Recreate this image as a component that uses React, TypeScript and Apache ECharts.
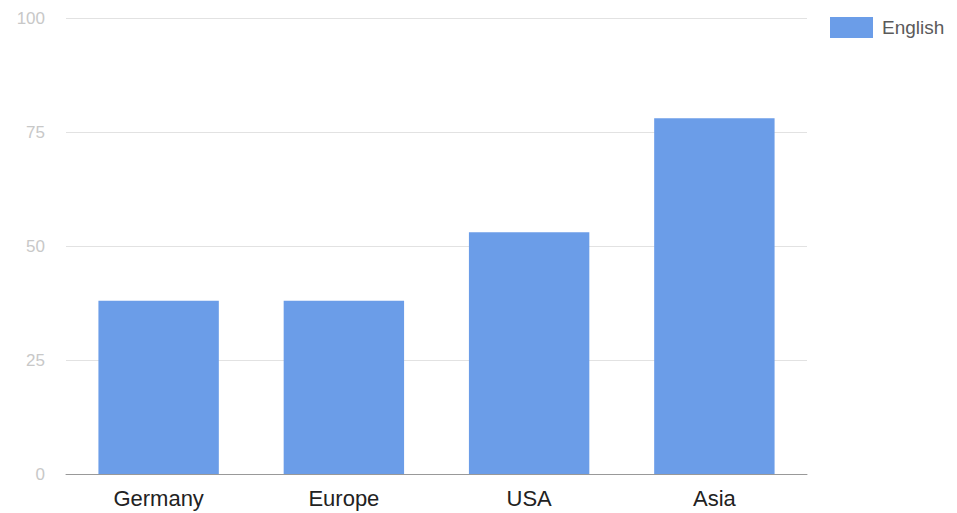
import React, { useEffect, useRef } from "react";
import * as echarts from "echarts";

const categories = ["Germany", "Europe", "USA", "Asia"];
const englishValues = [38, 38, 53, 78];
const seriesName = "English";

export default function App() {
  const ref = useRef<HTMLDivElement>(null);
  useEffect(() => {
    if (!ref.current) return;
    const chart = echarts.init(ref.current, null, { renderer: "svg" });
    chart.setOption({
      animation: false,
      backgroundColor: "#ffffff",
      grid: { left: 66, right: 150, top: 18, bottom: 39, containLabel: false },
      legend: {
        data: [{ name: seriesName, icon: "rect" }],
        left: 825,
        top: 12,
        orient: "vertical",
        itemWidth: 43,
        itemHeight: 21,
        textStyle: { color: "#5a5a5a", fontSize: 19, fontFamily: "Liberation Sans, Arial, sans-serif", padding: [0, 0, 0, 4] },
      },
      xAxis: {
        type: "category",
        data: categories,
        axisLine: { show: true, lineStyle: { color: "#999", width: 1 } },
        axisTick: { show: false },
        axisLabel: { color: "#222", fontSize: 22, margin: 13, fontFamily: "Liberation Sans, Arial, sans-serif" },
      },
      yAxis: {
        type: "value",
        min: 0,
        max: 100,
        interval: 25,
        axisLine: { show: false },
        axisTick: { show: false },
        axisLabel: { color: "#c8c8c8", fontSize: 17, margin: 21, fontFamily: "Liberation Sans, Arial, sans-serif" },
        splitLine: { lineStyle: { color: "#e2e2e2", width: 1 } },
      },
      series: [
        {
          name: seriesName,
          type: "bar",
          data: englishValues,
          barCategoryGap: "35%",
          itemStyle: { color: "#6b9de8" },
        },
      ],
    });
    return () => chart.dispose();
  }, []);
  return <div ref={ref} style={{ position: "fixed", left: 0, top: 0, width: 957, height: 513 }} />;
}
